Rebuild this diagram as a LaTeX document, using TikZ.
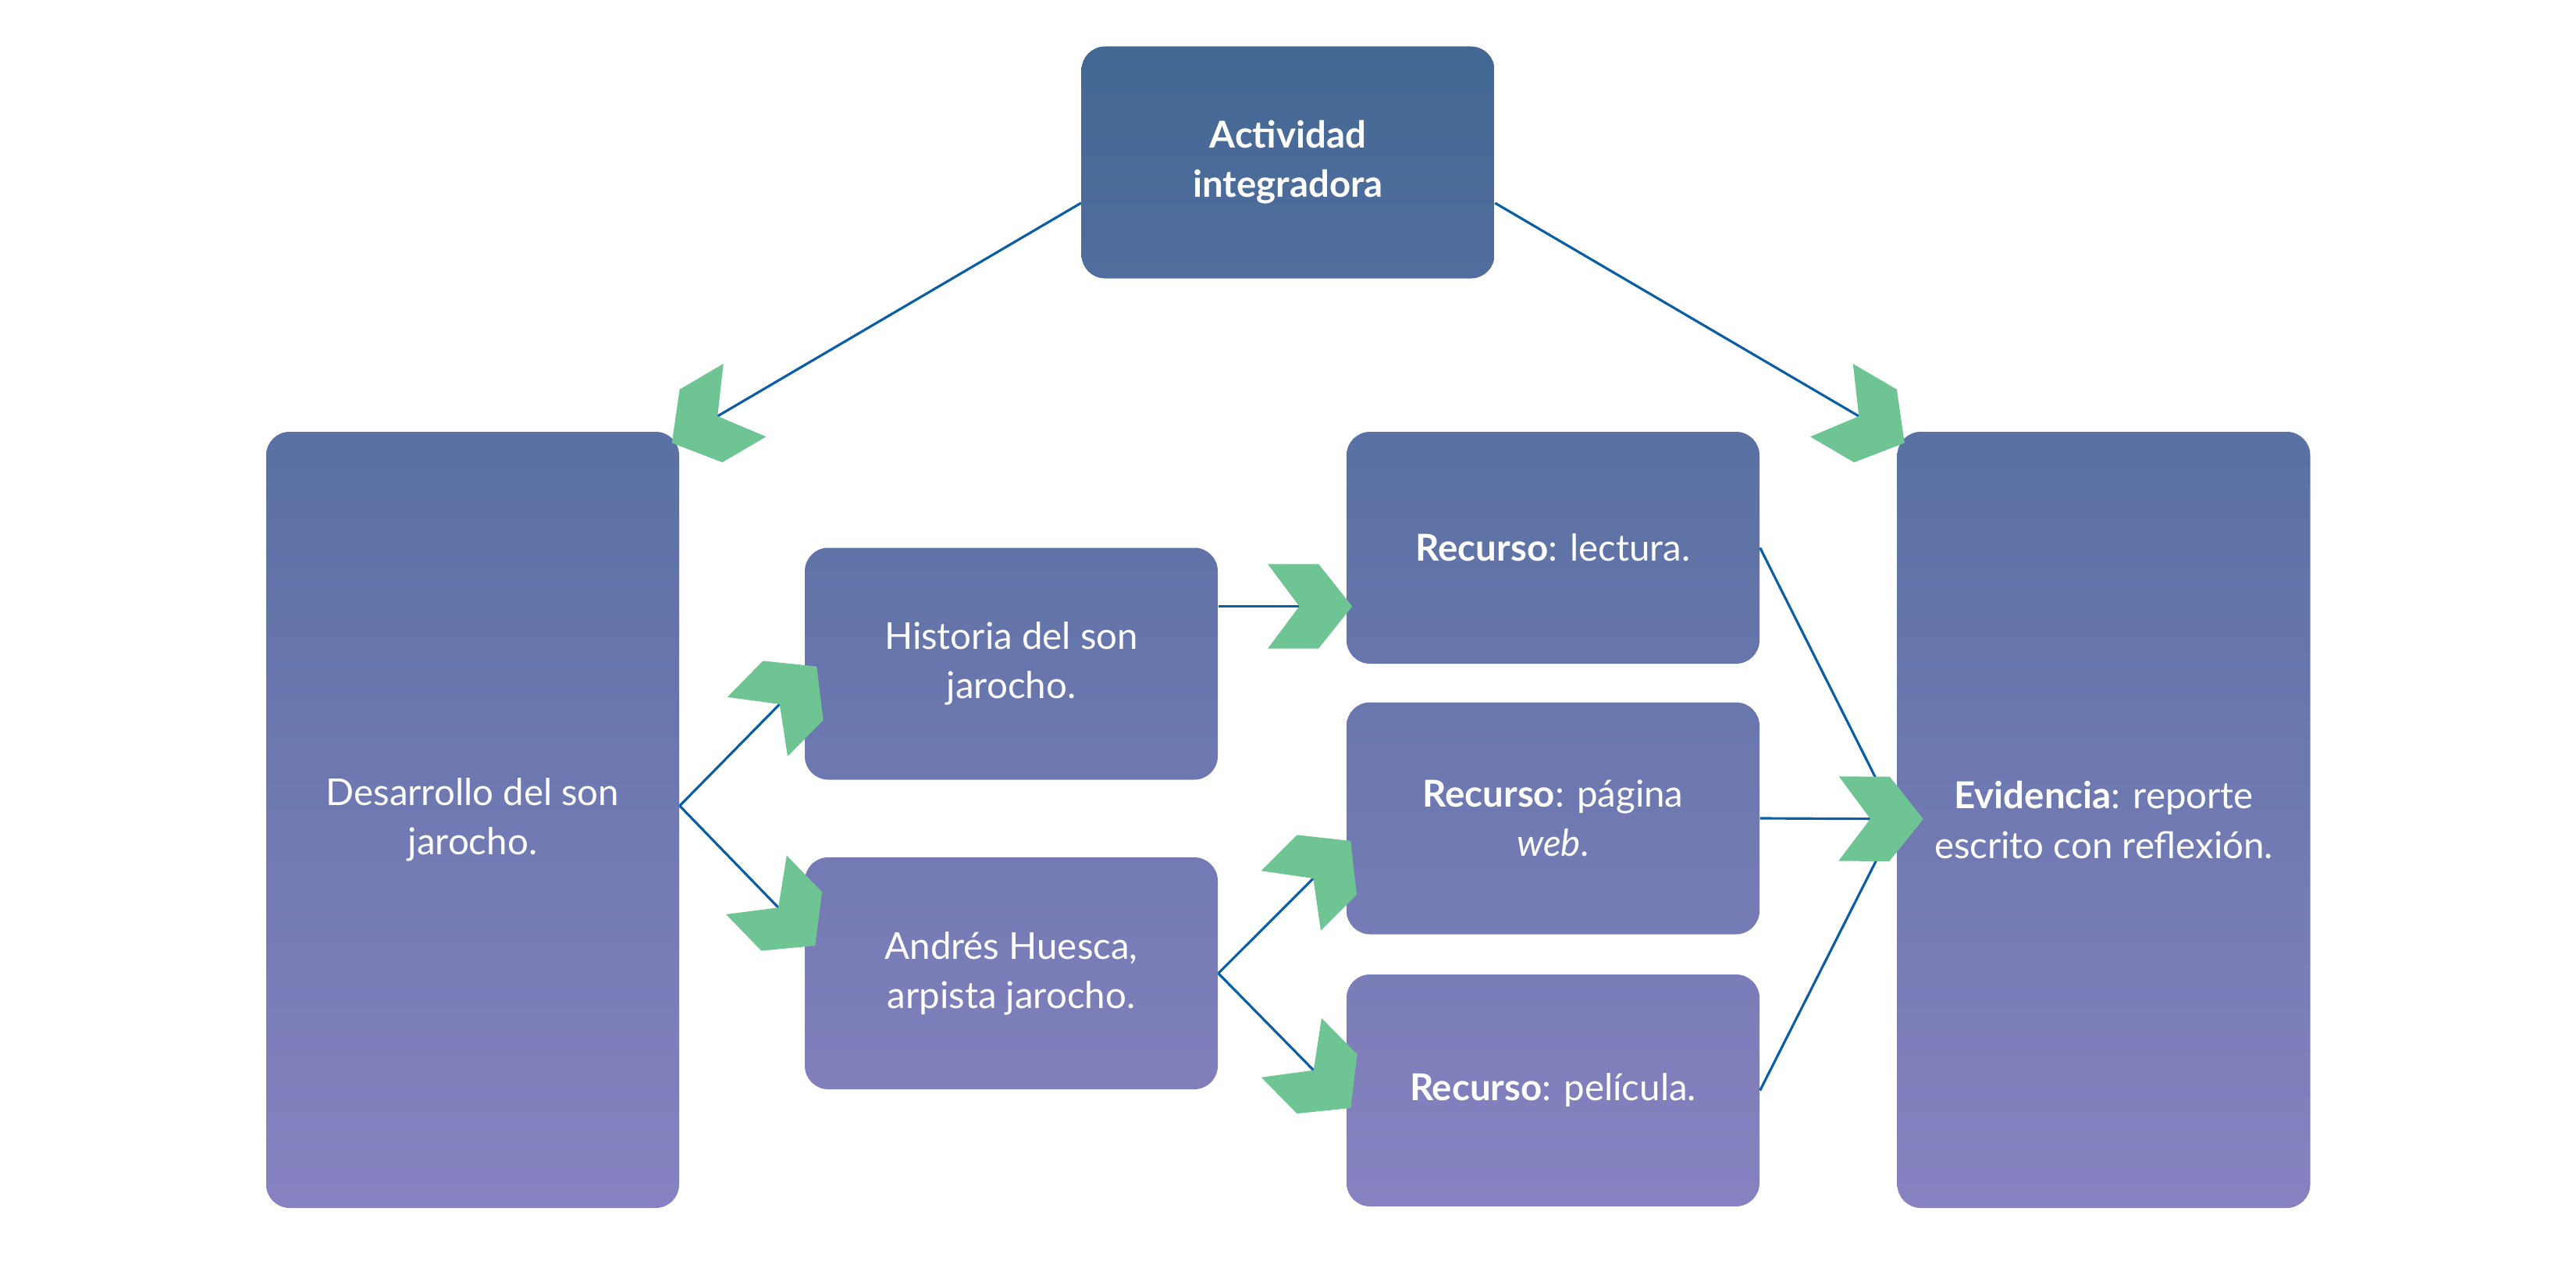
\documentclass[tikz,border=0pt]{standalone}
\usepackage{fontspec}
\setmainfont{Lato}
\usepackage{xcolor}
\usepackage{tikz}
\usetikzlibrary{calc,arrows.meta}
\definecolor{boxstart}{RGB}{67,104,148}
\definecolor{boxend}{RGB}{135,130,193}
\definecolor{linkblue}{RGB}{10,94,166}
\definecolor{chevgreen}{RGB}{110,197,147}
% green chevron tip, line stops in the notch
\pgfdeclarearrow{
  name = Chevron,
  setup code = {
    \pgfarrowssettipend{0pt}
    \pgfarrowssetlineend{-18.5pt}
    \pgfarrowssetbackend{-30.8pt}
  },
  drawing code = {
    \pgfsetfillcolor{chevgreen}
    \pgfpathmoveto{\pgfqpoint{0pt}{0pt}}
    \pgfpathlineto{\pgfqpoint{-12.3pt}{15.4pt}}
    \pgfpathlineto{\pgfqpoint{-30.8pt}{15.4pt}}
    \pgfpathlineto{\pgfqpoint{-19.3pt}{0pt}}
    \pgfpathlineto{\pgfqpoint{-30.8pt}{-15.4pt}}
    \pgfpathlineto{\pgfqpoint{-12.3pt}{-15.4pt}}
    \pgfpathclose
    \pgfusepathqfill
  }
}
\tikzset{
  stage-box/.style 2 args={rounded corners=0.3cm, minimum width=5.29cm,
    minimum height=2.97cm, inner sep=0pt, align=center, text=white,
    top color=boxend!#1!boxstart, bottom color=boxend!#2!boxstart,
    font=\fontsize{13.5}{18}\selectfont},
  tall-box/.style 2 args={stage-box={#1}{#2}, minimum height=9.94cm},
  plain-link/.style={line width=0.9pt, draw=linkblue},
  chevron-link/.style={-Chevron, line width=0.9pt, draw=linkblue}
}
\begin{document}
\begin{tikzpicture}
\useasboundingbox (0,0) rectangle (33,-16.37);
\node[stage-box={0}{20}] (aint) at (16.50,-2.08) {\textbf{Actividad}\\\textbf{integradora}};
\node[tall-box={33}{100}] (desar) at (6.055,-10.50) {Desarrollo del son\\jarocho.};
\node[tall-box={33}{100}] (evid) at (26.95,-10.50) {\textbf{Evidencia}: reporte\\escrito con reflexión.};
\node[stage-box={43}{63}] (hist) at (12.955,-8.50) {Historia del son\\jarocho.};
\node[stage-box={70}{90}] (huesca) at (12.955,-12.465) {Andrés Huesca,\\arpista jarocho.};
\node[stage-box={33}{53}] (rlect) at (19.895,-7.015) {\textbf{Recurso}: lectura.};
\node[stage-box={56}{76}] (rweb) at (19.895,-10.48) {\textbf{Recurso}: página\\\textit{web}.};
\node[stage-box={80}{100}] (rpeli) at (19.895,-13.965) {\textbf{Recurso}: película.};

\coordinate (dsplit) at ($(desar.east)+(0,0.18)$);
\coordinate (hlink) at ($(rlect.west)+(0.08,-0.75)$);
\coordinate (ehub) at ($(evid.west)+(0.34,0.01)$);

\draw[chevron-link] ($(aint.west)+(0,-0.52)$) -- ($(desar.north east)+(-0.10,-0.15)$);
\draw[chevron-link] ($(aint.east)+(0,-0.52)$) -- ($(evid.north west)+(0.10,-0.15)$);
\draw[chevron-link] (dsplit) -- ($(hist.west)+(0.16,-0.035)$);
\draw[chevron-link] (dsplit) -- ($(huesca.west)+(0.14,0.355)$);
\draw[chevron-link] (hist.east |- hlink) -- (hlink);
\draw[chevron-link] (huesca.east) -- ($(rweb.west)+(0.06,-0.29)$);
\draw[chevron-link] (huesca.east) -- ($(rpeli.west)+(0.06,-0.225)$);
\draw[plain-link] (rlect.east) -- (evid.west);
\draw[plain-link] (rpeli.east) -- (evid.west);
\draw[chevron-link] (rweb.east) -- (ehub);
\end{tikzpicture}
\end{document}
